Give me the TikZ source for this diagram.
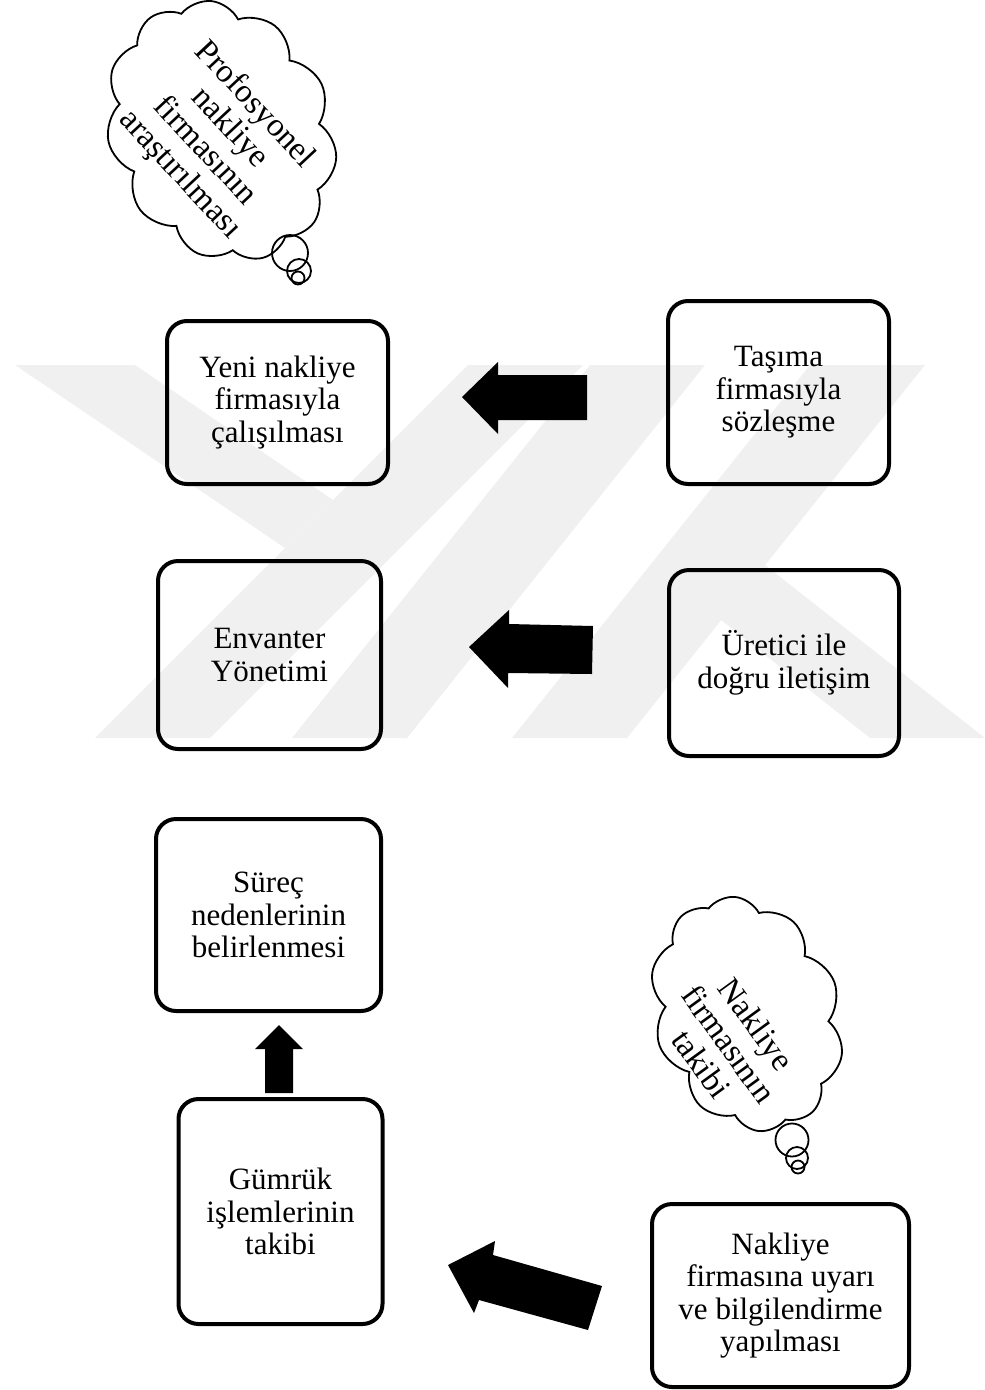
\documentclass[tikz,border=0pt]{standalone}
\usepackage{fontspec}
\setmainfont{Liberation Serif}
\usetikzlibrary{shapes.symbols}

\tikzset{
  stepbox/.style={draw, line width=4pt, rounded corners=20pt, align=center,
    font=\fontsize{31pt}{32.5pt}\selectfont, inner sep=0pt},
  thought/.style={cloud, draw, line width=1.8pt, cloud puffs=11, cloud puff arc=115,
    cloud ignores aspect, inner sep=0pt},
  thoughttext/.style={align=center, font=\fontsize{33pt}{34pt}\selectfont, inner sep=0pt},
  bubble/.style={draw, line width=1.8pt},
  blockarrow/.style={fill=black, draw=none},
  emblem/.style={fill=black!6, draw=none}
}

\begin{document}
\begin{tikzpicture}[x=1pt, y=-1pt]
\useasboundingbox (0,0) rectangle (985,1390);

% faint background emblem
\fill[emblem] (15,365) -- (135,365) -- (333,500) -- (285,548) -- cycle;
\fill[emblem] (95,738) -- (210,738) -- (583,365) -- (468,365) -- cycle;
\fill[emblem] (292,738) -- (407,738) -- (705,365) -- (590,365) -- cycle;
\fill[emblem] (512,738) -- (627,738) -- (925,365) -- (810,365) -- cycle;
\fill[emblem] (870,738) -- (985,738) -- (765,565) -- (721,620) -- cycle;

% process boxes
\node[stepbox, minimum width=221pt, minimum height=163pt] (yeni) at (277.5,402.5)
  {Yeni nakliye\\firmasıyla\\çalışılması};
\node[stepbox, minimum width=221pt, minimum height=183pt] (tasima) at (778.5,392.5)
  {Taşıma\\firmasıyla\\sözleşme};
\node[stepbox, minimum width=223pt, minimum height=188pt] (envanter) at (269.5,655)
  {Envanter\\Yönetimi};
\node[stepbox, minimum width=230pt, minimum height=186pt] (uretici) at (784,663)
  {Üretici ile\\doğru iletişim};
\node[stepbox, minimum width=225pt, minimum height=192pt] (surec) at (268.5,915)
  {Süreç\\nedenlerinin\\belirlenmesi};
\node[stepbox, minimum width=204pt, minimum height=225pt] (gumruk) at (280.5,1211.5)
  {Gümrük\\işlemlerinin\\takibi};
\node[stepbox, minimum width=257pt, minimum height=183pt] (uyari) at (780.5,1295.5)
  {Nakliye\\firmasına uyarı\\ve bilgilendirme\\yapılması};

% block arrows
\fill[blockarrow] (462,397) -- (498,362) -- (498,375) -- (587,375) -- (587,420)
  -- (498,420) -- (498,434) -- cycle;
\fill[blockarrow] (469,647) -- (509,610) -- (509,624) -- (593,626) -- (592,674)
  -- (508,673) -- (508,688) -- cycle;
\fill[blockarrow] (279,1025) -- (303,1049) -- (293,1049) -- (293,1093) -- (265,1093)
  -- (265,1049) -- (255,1049) -- cycle;
\fill[blockarrow] (448,1265) -- (495,1241) -- (493,1255) -- (602,1286) -- (588,1330)
  -- (479,1300) -- (474,1313) -- cycle;

% thought clouds
\node[thought, rotate=-65, minimum width=268pt, minimum height=222pt] (cloudtop) at (221,131) {};
\node[thoughttext, rotate=-47] (cloudtoptext) at (217,140)
  {Profosyonel\\nakliye\\firmasının\\araştırılması};
\draw[bubble] (290,253) circle (18pt);
\draw[bubble] (299,271) circle (12pt);
\draw[bubble] (298,278) circle (6.5pt);

\node[thought, rotate=-70, minimum width=240pt, minimum height=186pt, cloud puffs=10] (cloudbot) at (747,1014) {};
\node[thoughttext, rotate=-54] (cloudbottext) at (729,1044)
  {Nakliye\\firmasının\\takibi};
\draw[bubble] (792,1140) circle (16.5pt);
\draw[bubble] (797,1158) circle (11pt);
\draw[bubble] (798,1167) circle (6.5pt);
\end{tikzpicture}
\end{document}
